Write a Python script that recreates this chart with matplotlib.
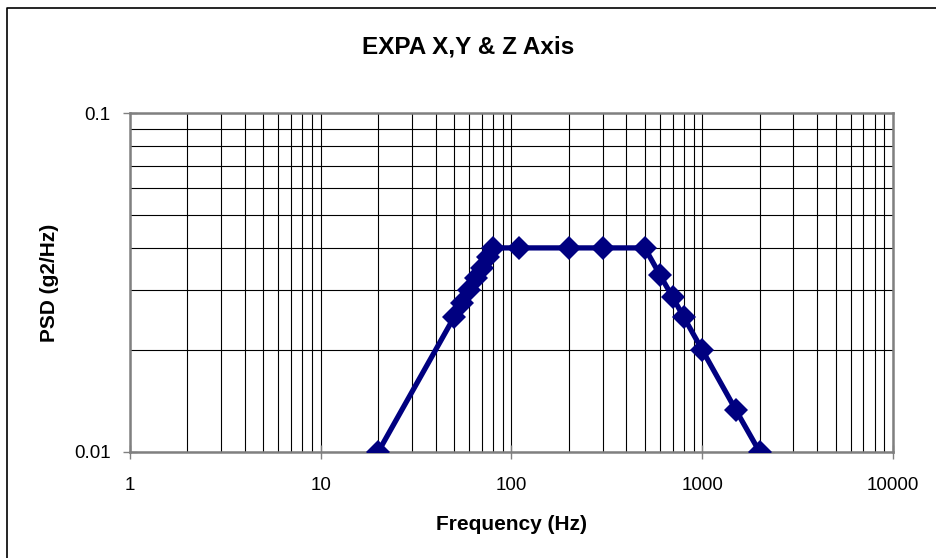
import matplotlib
matplotlib.use("Agg")
import matplotlib.pyplot as plt
from matplotlib.lines import Line2D
from matplotlib.ticker import FixedLocator, NullFormatter

plt.rcParams['font.family'] = ['Liberation Sans', 'DejaVu Sans']

# PSD profile breakpoints
freq_hz = [20, 50, 55, 60, 65, 70, 75, 80, 110, 200, 300, 500,
           600, 700, 800, 1000, 1500, 2000]
psd_g2hz = [0.01, 0.025, 0.0275, 0.03, 0.0325, 0.035, 0.0375, 0.04,
            0.04, 0.04, 0.04, 0.04,
            0.0333, 0.0286, 0.025, 0.02, 0.0133, 0.01]

x_ticks = [1, 10, 100, 1000, 10000]
x_tick_labels = ['1', '10', '100', '1000', '10000']
y_ticks = [0.01, 0.1]
y_tick_labels = ['0.01', '0.1']

fig = plt.figure(figsize=(9.37, 5.58), dpi=100)
ax = fig.add_axes([130 / 937, 1 - 452 / 558, 763 / 937, 339 / 558])

ax.plot(freq_hz, psd_g2hz, color='#000080', linewidth=3.8,
        marker='D', markersize=12, markeredgewidth=0, zorder=3)

ax.set_xscale('log')
ax.set_yscale('log')
ax.set_xlim(1, 10000)
ax.set_ylim(0.01, 0.1)

ax.xaxis.set_major_locator(FixedLocator(x_ticks))
ax.set_xticklabels(x_tick_labels)
ax.yaxis.set_major_locator(FixedLocator(y_ticks))
ax.set_yticklabels(y_tick_labels)

x_minor = [m * 10 ** d for d in range(4) for m in range(2, 10)]
y_minor = [m * 0.01 for m in range(2, 10)]
ax.xaxis.set_minor_locator(FixedLocator(x_minor))
ax.yaxis.set_minor_locator(FixedLocator(y_minor))
ax.xaxis.set_minor_formatter(NullFormatter())
ax.yaxis.set_minor_formatter(NullFormatter())

ax.grid(which='both', color='black', linewidth=0.8)
ax.set_axisbelow(True)

ax.tick_params(which='major', direction='inout', length=10, width=1,
               color='#808080', labelsize=13.5)
ax.tick_params(axis='x', which='major', pad=13)
ax.tick_params(axis='y', which='major', pad=9)
ax.tick_params(which='minor', length=0)

for spine in ax.spines.values():
    spine.set_color('#808080')
    spine.set_linewidth(1.8)

ax.set_xlabel('Frequency (Hz)', fontsize=15, fontweight='bold', labelpad=15)
ax.set_ylabel('PSD (g2/Hz)', fontsize=15, fontweight='bold', labelpad=11)
fig.text(0.5, 1 - 47 / 558, 'EXPA X,Y & Z Axis', ha='center', va='center',
         fontsize=17.5, fontweight='bold')

# chart area border (left and top edges fall inside the canvas)
fig.add_artist(Line2D([7 / 937, 7 / 937, 1.01], [-0.01, 1 - 8 / 558, 1 - 8 / 558],
                      transform=fig.transFigure, color='black', linewidth=1.2))

fig.savefig('out.png', dpi=100)
